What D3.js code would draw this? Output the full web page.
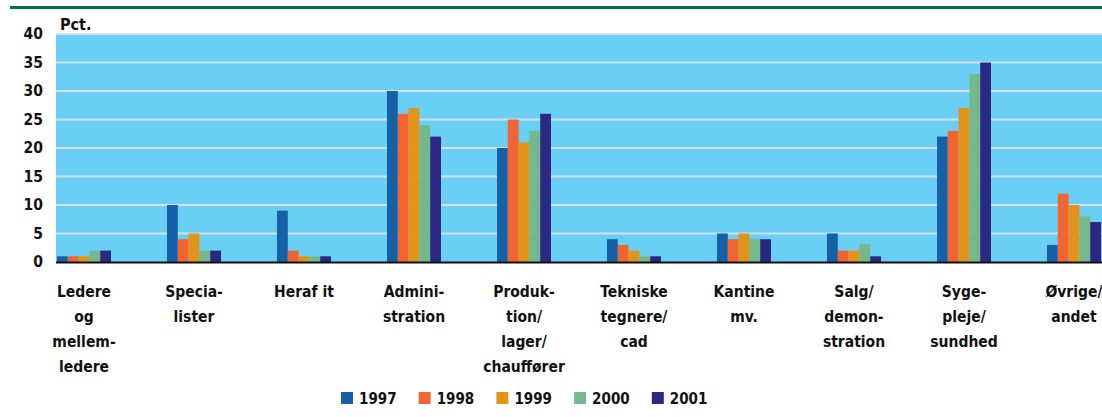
<!DOCTYPE html>
<html>
<head>
<meta charset="utf-8">
<script src="https://cdn.jsdelivr.net/npm/d3@7"></script>
<style>
  body { margin: 0; background: #fff; }
  text { font-family: "Liberation Sans Narrow", "DejaVu Sans Condensed", "Liberation Sans", sans-serif; font-weight: bold; fill: #111; }
</style>
</head>
<body>
<div id="chart"></div>
<script>
// categories (lines split as in the printed chart)
var categories = [
  ["Ledere", "og", "mellem-", "ledere"],
  ["Specia-", "lister"],
  ["Heraf it"],
  ["Admini-", "stration"],
  ["Produk-", "tion/", "lager/", "chauffører"],
  ["Tekniske", "tegnere/", "cad"],
  ["Kantine", "mv."],
  ["Salg/", "demon-", "stration"],
  ["Syge-", "pleje/", "sundhed"],
  ["Øvrige/", "andet"]
];
var years = ["1997", "1998", "1999", "2000", "2001"];
var v1997 = [1, 10, 9, 30, 20, 4, 5, 5, 22, 3];
var v1998 = [1, 4, 2, 26, 25, 3, 4, 2, 23, 12];
var v1999 = [1, 5, 1, 27, 21, 2, 5, 2, 27, 10];
var v2000 = [2, 2, 1, 24, 23, 1, 4, 3.2, 33, 8];
var v2001 = [2, 2, 1, 22, 26, 1, 4, 1, 35, 7];
var yTicks = [0, 5, 10, 15, 20, 25, 30, 35, 40];
var colors = ["#1560a6", "#f26531", "#e39317", "#74b98e", "#2b2882"];

var series = [v1997, v1998, v1999, v2000, v2001];
var width = 1102, height = 417;

var svg = d3.select("#chart").append("svg")
    .attr("width", width)
    .attr("height", height);

// green rule at the top
svg.append("rect")
    .attr("x", 10).attr("y", 6)
    .attr("width", width - 10).attr("height", 3)
    .attr("fill", "#00704a");

var keys = categories.map(function(d, i) { return "c" + i; });

var x = d3.scaleBand()
    .domain(keys)
    .range([57, 1101])
    .paddingInner(0.509)
    .paddingOuter(0);

var xs = d3.scaleBand()
    .domain(years)
    .range([0, x.bandwidth()]);

var y = d3.scaleLinear()
    .domain([0, 40])
    .range([262, 34]);

// plot background
svg.append("rect")
    .attr("x", 56).attr("y", y(40))
    .attr("width", width - 56).attr("height", y(0) - y(40))
    .attr("fill", "#6acff4");

// gridlines
svg.append("g")
    .selectAll("line")
    .data(yTicks.filter(function(d) { return d > 0; }))
    .enter().append("line")
    .attr("x1", 56).attr("x2", width)
    .attr("y1", function(d) { return y(d); })
    .attr("y2", function(d) { return y(d); })
    .attr("stroke", "#d6dfeb")
    .attr("stroke-width", 2);

// y axis labels
var yAxis = d3.axisLeft(y).tickValues(yTicks).tickSize(0).tickPadding(0);
var gy = svg.append("g")
    .attr("transform", "translate(43,0)")
    .call(yAxis);
gy.select(".domain").remove();
gy.selectAll("text")
    .attr("font-size", 15.5)
    .style("font-family", "\"Liberation Sans Narrow\", \"DejaVu Sans Condensed\", sans-serif")
    .style("font-weight", "bold")
    .attr("fill", "#111");

svg.append("text")
    .attr("x", 60).attr("y", 30)
    .attr("font-size", 16)
    .text("Pct.");

// bars
var groups = svg.append("g").selectAll("g")
    .data(keys)
    .enter().append("g")
    .attr("transform", function(d) { return "translate(" + x(d) + ",0)"; });

groups.selectAll("rect")
    .data(function(d, i) {
      return years.map(function(yr, j) { return { year: yr, value: series[j][i], j: j }; });
    })
    .enter().append("rect")
    .attr("x", function(d) { return xs(d.year); })
    .attr("width", xs.bandwidth())
    .attr("y", function(d) { return y(d.value); })
    .attr("height", function(d) { return y(0) - y(d.value); })
    .attr("fill", function(d) { return colors[d.j]; });

// baseline
svg.append("line")
    .attr("x1", 56).attr("x2", width)
    .attr("y1", y(0) + 0.5).attr("y2", y(0) + 0.5)
    .attr("stroke", "#111")
    .attr("stroke-width", 2);

// category labels
var labels = svg.append("g").selectAll("text")
    .data(categories)
    .enter().append("text")
    .attr("text-anchor", "middle")
    .attr("font-size", 15.5)
    .attr("transform", function(d, i) { return "translate(" + (x(keys[i]) + x.bandwidth() / 2) + ",297)"; });

labels.selectAll("tspan")
    .data(function(d) { return d; })
    .enter().append("tspan")
    .attr("x", 0)
    .attr("y", function(d, i) { return i * 25; })
    .text(function(d) { return d; });

// legend
var legend = svg.append("g").selectAll("g")
    .data(years)
    .enter().append("g")
    .attr("transform", function(d, i) { return "translate(" + (341 + i * 77.7) + ",392)"; });

legend.append("rect")
    .attr("width", 12).attr("height", 12)
    .attr("fill", function(d, i) { return colors[i]; });

legend.append("text")
    .attr("x", 18).attr("y", 12)
    .attr("font-size", 15)
    .text(function(d) { return d; });
</script>
</body>
</html>
